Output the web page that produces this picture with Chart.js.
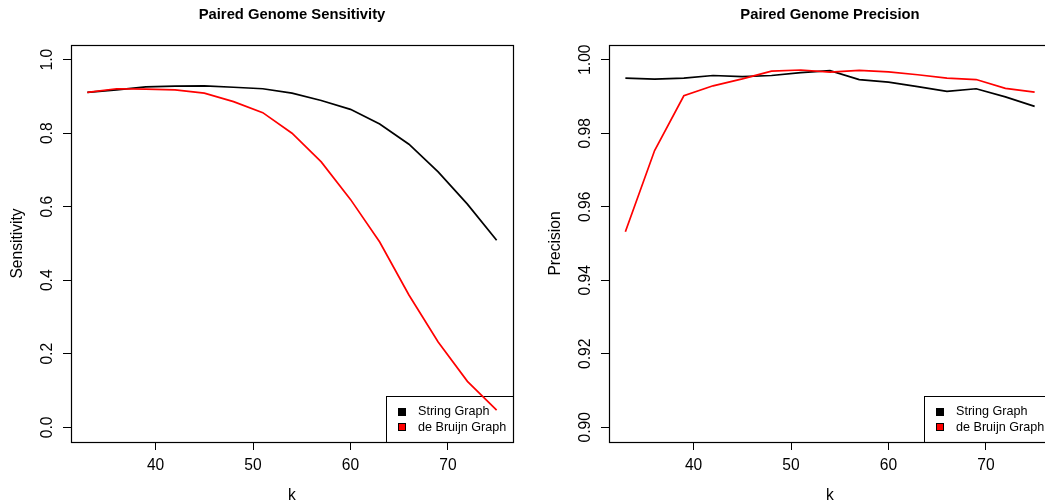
<!DOCTYPE html>
<html>
<head>
<meta charset="utf-8">
<script src="https://cdn.jsdelivr.net/npm/chart.js@4/dist/chart.umd.min.js"></script>
<style>
  html, body { margin: 0; padding: 0; background: #fff; overflow: hidden; }
  body { width: 1045px; height: 502px; position: relative; }
  .panel { position: absolute; top: 0; }
</style>
</head>
<body>
<div class="panel" style="left:0px"><canvas id="sensChart" width="530" height="502"></canvas></div>
<div class="panel" style="left:538px"><canvas id="precChart" width="530" height="502"></canvas></div>
<script>
// values
var kValues = [33, 36, 39, 42, 45, 48, 51, 54, 57, 60, 63, 66, 69, 72, 75]
var sensString   = [0.911, 0.918, 0.926, 0.928, 0.929, 0.925, 0.921, 0.909, 0.889, 0.865, 0.825, 0.770, 0.695, 0.607, 0.509]
var sensDeBruijn = [0.911, 0.921, 0.920, 0.918, 0.909, 0.886, 0.856, 0.800, 0.722, 0.620, 0.504, 0.360, 0.232, 0.125, 0.047]
var precString   = [0.9950, 0.9947, 0.9950, 0.9957, 0.9954, 0.9957, 0.9965, 0.9970, 0.9946, 0.9939, 0.9927, 0.9914, 0.9921, 0.9899, 0.9873]
var precDeBruijn = [0.9532, 0.9753, 0.9902, 0.9929, 0.9948, 0.9969, 0.9972, 0.9966, 0.9971, 0.9967, 0.9959, 0.9950, 0.9946, 0.9922, 0.9912]

var kTicks = [40, 50, 60, 70]
var kTickLabels = ['40', '50', '60', '70']
var sensTicks = [0, 0.2, 0.4, 0.6, 0.8, 1.0]
var sensTickLabels = ['0.0', '0.2', '0.4', '0.6', '0.8', '1.0']
var precTicks = [0.90, 0.92, 0.94, 0.96, 0.98, 1.00]
var precTickLabels = ['0.90', '0.92', '0.94', '0.96', '0.98', '1.00']

var seriesNames = ['String Graph', 'de Bruijn Graph']
var seriesColors = ['#000000', '#ff0000']

var FONT = "'Liberation Sans', Arial, Helvetica, sans-serif"
Chart.defaults.font.family = FONT
Chart.defaults.color = '#000'

// R style: axis range widened by 4% on each side
function widen(lo, hi) {
  var d = (hi - lo) * 0.04
  return [lo - d, hi + d]
}

function makeChart(id, title, yTitle, stringVals, dbVals, yLim, yTicks, yTickLabels) {
  var xr = widen(kValues[0], kValues[kValues.length - 1])
  var yr = widen(yLim[0], yLim[1])

  // box, title, vertical y labels (before the lines) and legend
  var rFrame = {
    id: 'rFrame',
    beforeDatasetsDraw: function (chart) {
      var ctx = chart.ctx
      var a = chart.chartArea
      var ys = chart.scales.y
      ctx.save()
      ctx.strokeStyle = '#000'
      ctx.lineWidth = 1.2
      ctx.strokeRect(Math.round(a.left) + 0.5, Math.round(a.top) + 0.5, Math.round(a.right - a.left), Math.round(a.bottom - a.top))
      ctx.fillStyle = '#000'
      ctx.font = 'bold 14.8px ' + FONT
      ctx.textAlign = 'center'
      ctx.textBaseline = 'alphabetic'
      ctx.fillText(title, (a.left + a.right) / 2, 19)
      ctx.font = '15.6px ' + FONT
      ys.ticks.forEach(function (t, i) {
        var py = ys.getPixelForValue(t.value)
        ctx.save()
        ctx.translate(a.left - 19, py)
        ctx.rotate(-Math.PI / 2)
        ctx.textAlign = 'center'
        ctx.textBaseline = 'alphabetic'
        ctx.fillText(yTickLabels[i], 0, 0)
        ctx.restore()
      })
      // legend, bottom right, no background (lines pass over it)
      ctx.font = '12.6px ' + FONT
      var tw = 0
      seriesNames.forEach(function (n) { tw = Math.max(tw, ctx.measureText(n).width) })
      var bw = Math.round(32 + tw + 7)
      var bh = 46
      var bx = Math.round(a.right) - bw
      var by = Math.round(a.bottom) - bh
      ctx.strokeStyle = '#000'
      ctx.lineWidth = 1
      ctx.strokeRect(bx + 0.5, by + 0.5, bw, bh)
      seriesNames.forEach(function (n, i) {
        var cy = by + 15.5 + i * 15.7
        ctx.fillStyle = seriesColors[i]
        ctx.fillRect(bx + 12, Math.round(cy - 4), 8, 8)
        ctx.strokeStyle = '#000'
        ctx.strokeRect(bx + 12.5, Math.round(cy - 4) + 0.5, 7, 7)
        ctx.fillStyle = '#000'
        ctx.textAlign = 'left'
        ctx.textBaseline = 'middle'
        ctx.fillText(n, bx + 32, cy)
      })
      ctx.restore()
    }
  }

  return new Chart(document.getElementById(id), {
    type: 'line',
    data: {
      datasets: [{
        label: seriesNames[0],
        data: kValues.map(function (k, i) { return { x: k, y: stringVals[i] } }),
        borderColor: seriesColors[0],
        backgroundColor: seriesColors[0],
        borderWidth: 1.7,
        pointRadius: 0,
        tension: 0,
        order: 2
      }, {
        label: seriesNames[1],
        data: kValues.map(function (k, i) { return { x: k, y: dbVals[i] } }),
        borderColor: seriesColors[1],
        backgroundColor: seriesColors[1],
        borderWidth: 1.7,
        pointRadius: 0,
        tension: 0,
        order: 1
      }]
    },
    options: {
      responsive: false,
      animation: false,
      events: [],
      layout: { padding: { top: 45, right: 17, left: 0, bottom: 0 } },
      plugins: { legend: { display: false }, tooltip: { enabled: false }, title: { display: false } },
      scales: {
        x: {
          type: 'linear',
          min: xr[0],
          max: xr[1],
          afterBuildTicks: function (s) { s.ticks = kTicks.map(function (v) { return { value: v } }) },
          afterFit: function (s) { s.height = 60 },
          ticks: {
            font: { size: 15.6 },
            padding: 6,
            maxRotation: 0,
            callback: function (v) { return kTickLabels[kTicks.indexOf(v)] }
          },
          grid: { drawOnChartArea: false, drawTicks: true, tickLength: 8, tickColor: '#000', color: '#000' },
          border: { display: true, color: '#000' },
          title: { display: true, text: 'k', font: { size: 15.6 }, padding: { top: 0, bottom: -3 } }
        },
        y: {
          type: 'linear',
          min: yr[0],
          max: yr[1],
          afterBuildTicks: function (s) { s.ticks = yTicks.map(function (v) { return { value: v } }) },
          afterFit: function (s) { s.width = 71 },
          ticks: { display: false },
          grid: { drawOnChartArea: false, drawTicks: true, tickLength: 8, tickColor: '#000', color: '#000' },
          border: { display: true, color: '#000' },
          title: { display: true, text: yTitle, font: { size: 15.6 }, padding: { top: 8, bottom: 0 } }
        }
      }
    },
    plugins: [rFrame]
  })
}

makeChart('sensChart', 'Paired Genome Sensitivity', 'Sensitivity', sensString, sensDeBruijn, [0, 1], sensTicks, sensTickLabels)
makeChart('precChart', 'Paired Genome Precision', 'Precision', precString, precDeBruijn, [0.9, 1], precTicks, precTickLabels)
</script>
</body>
</html>
